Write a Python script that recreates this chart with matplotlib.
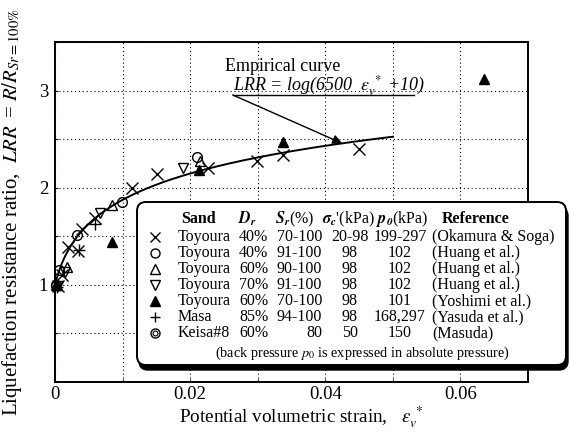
import numpy as np
import matplotlib
matplotlib.use("Agg")
import matplotlib.pyplot as plt
from matplotlib.lines import Line2D
from matplotlib.patches import FancyBboxPatch
from matplotlib.ticker import MultipleLocator, FuncFormatter

plt.rcParams['font.family'] = ['Liberation Serif', 'DejaVu Serif']
plt.rcParams['mathtext.fontset'] = 'stix'

# data
toy40_x = [0.0005, 0.0010, 0.0019, 0.0034, 0.0040, 0.0059, 0.0114, 0.0151, 0.0226, 0.0299, 0.0337, 0.0450]
toy40_y = [0.99, 1.10, 1.39, 1.35, 1.57, 1.69, 2.00, 2.14, 2.20, 2.27, 2.34, 2.40]
huang40_x = [0.0002, 0.0006, 0.0033, 0.0099, 0.0210]
huang40_y = [1.00, 1.15, 1.51, 1.85, 2.32]
huang60_x = [0.0003, 0.0018, 0.0084, 0.0215]
huang60_y = [1.00, 1.18, 1.82, 2.27]
huang70_x = [0.0004, 0.0015, 0.0066, 0.0190]
huang70_y = [0.99, 1.13, 1.74, 2.20]
yoshimi_x = [0.0002, 0.0084, 0.0213, 0.0337, 0.0635]
yoshimi_y = [1.00, 1.44, 2.18, 2.47, 3.12]
masa_x = [0.0003, 0.0036, 0.0059]
masa_y = [0.98, 1.36, 1.63]
keisa_x = [0.0001]
keisa_y = [1.00]

# empirical curve LRR = log(6500 e + 10)
coef_a, coef_b, eps_max = 6500, 10, 0.05

# legend table
sands = ['Toyoura', 'Toyoura', 'Toyoura', 'Toyoura', 'Toyoura', 'Masa', 'Keisa#8']
drs = ['40%', '40%', '60%', '70%', '60%', '85%', '60%']
srs = ['70-100', '91-100', '90-100', '91-100', '70-100', '94-100', '80']
sigmas = ['20-98', '98', '98', '98', '98', '98', '50']
p0s = ['199-297', '102', '102', '102', '101', '168,297', '150']
refs = ['(Okamura & Soga)', '(Huang et al.)', '(Huang et al.)', '(Huang et al.)',
        '(Yoshimi et al.)', '(Yasuda et al.)', '(Masuda)']

styles = [dict(marker='x', mfc='none'), dict(marker='o', mfc='none'),
          dict(marker='^', mfc='none'), dict(marker='v', mfc='none'),
          dict(marker='^', mfc='k'), dict(marker='+', mfc='none'),
          dict(marker='o', mfc='none')]
series = [(toy40_x, toy40_y), (huang40_x, huang40_y), (huang60_x, huang60_y),
          (huang70_x, huang70_y), (yoshimi_x, yoshimi_y), (masa_x, masa_y),
          (keisa_x, keisa_y)]

def msize(st):
    return 8 if st['marker'] in ('x', '+') else 7

fig = plt.figure(figsize=(5.7, 4.32), dpi=100)
ax = fig.add_axes([55/570, 50/432, 473/570, 340/432])

ex = np.linspace(0, eps_max, 200)
ax.plot(ex, np.log10(coef_a*ex + coef_b), color='k', lw=1.4, zorder=3)

for (xs, ys), st in zip(series, styles):
    ax.plot(xs, ys, ls='none', color='k', mec='k', ms=msize(st), mew=1.0,
            clip_on=False, zorder=4, **st)
# inner ring of the Keisa#8 double circle
ax.plot(keisa_x, keisa_y, ls='none', marker='o', mfc='none', mec='k', ms=3.5,
        mew=0.8, clip_on=False, zorder=4)

ax.set_xlim(0, 0.07)
ax.set_ylim(0, 3.5)
ax.xaxis.set_major_locator(MultipleLocator(0.01))
ax.yaxis.set_major_locator(MultipleLocator(0.5))
ax.xaxis.set_major_formatter(FuncFormatter(
    lambda v, p: ('0' if abs(v) < 1e-9 else '%g' % v) if round(v*100) % 2 == 0 else ''))
ax.yaxis.set_major_formatter(FuncFormatter(
    lambda v, p: '%d' % v if abs(v - round(v)) < 1e-9 and v > 0 else ''))
ax.tick_params(direction='in', length=2, width=0.8, labelsize=13.5, pad=5)
ax.tick_params(axis='x', pad=3)
ax.grid(True, color='k', ls=(0, (1, 2.5)), lw=0.8)
for s in ax.spines.values():
    s.set_linewidth(1.4)

ax.set_xlabel(r'Potential volumetric strain,   $\varepsilon_v^{\ *}$', fontsize=13.8)
ax.xaxis.set_label_coords(0.52, -0.067)
ax.set_ylabel(r'Liquefaction resistance ratio,  $LRR\,$ = $R/R_{Sr=100\%}$', fontsize=15)
ax.yaxis.set_label_coords(-0.066, 0.5)

# annotation of empirical curve
ax.text(0.0252, 3.2, 'Empirical curve', fontsize=13, va='baseline', ha='left')
ax.text(0.0263, 3.0, r'LRR = log(6500  $\varepsilon_v^{\ *}$ +10)', fontsize=13,
        fontstyle='italic', va='baseline', ha='left')
ax.plot([0.0263, 0.0531], [2.955, 2.955], color='k', lw=1.0, clip_on=False)
tip = 0.0425
ax.annotate('', xy=(tip, np.log10(coef_a*tip + coef_b)), xytext=(0.0263, 2.955),
            arrowprops=dict(arrowstyle='-|>', color='k', lw=1.0,
                            mutation_scale=14, shrinkA=0, shrinkB=0))

# legend box drawn in pixel-like inch coordinates
T = fig.dpi_scale_trans
def px(x):
    return x/100.0
def py(y):
    return (432 - y)/100.0

bx0, bx1, by0, by1 = 137, 566, 202, 365
shadow = FancyBboxPatch((px(bx0 + 2), py(by1 + 5)), px(bx1 - bx0), px(by1 - by0),
                        boxstyle='round,pad=0,rounding_size=0.09', transform=T,
                        fc='k', ec='k', lw=1.0, zorder=5)
box = FancyBboxPatch((px(bx0), py(by1)), px(bx1 - bx0), px(by1 - by0),
                     boxstyle='round,pad=0,rounding_size=0.09', transform=T,
                     fc='white', ec='k', lw=1.4, zorder=6)
fig.patches.extend([shadow, box])

fs = 11.5
hy = 219
kw = dict(transform=T, fontsize=fs, va='center', zorder=7)
fig.text(px(181), py(hy), 'Sand', fontweight='bold', ha='left', **kw)
fig.text(px(238), py(hy), r'$\mathbfit{D}_{\mathbfit{r}}$', ha='left', **kw)
fig.text(px(275), py(hy), r'$\mathbfit{S}_{\mathbfit{r}}$(%)', ha='left', **kw)
fig.text(px(348), py(hy), r"$\mathbfit{\sigma}_{\mathbfit{c}}$'(kPa)", ha='center', **kw)
fig.text(px(402), py(hy), r'$\mathbfit{p}_{\mathbfit{0}}$(kPa)', ha='center', **kw)
fig.text(px(476), py(hy), 'Reference', fontweight='bold', ha='center', **kw)

for i in range(len(sands)):
    yy = py(237 + 16*i)
    st = styles[i]
    fig.lines.append(Line2D([px(155)], [yy], transform=T, ls='none', color='k',
                            mec='k', ms=msize(st) - 0.5, mew=1.0, zorder=7, **st))
    if sands[i] == 'Keisa#8':
        fig.lines.append(Line2D([px(155)], [yy], transform=T, ls='none', marker='o',
                                mfc='none', mec='k', ms=3.5, mew=0.8, zorder=7))
    fig.text(px(178), yy, sands[i], ha='left', **kw)
    fig.text(px(239), yy, drs[i], ha='left', **kw)
    fig.text(px(322), yy, srs[i], ha='right', **kw)
    fig.text(px(350), yy, sigmas[i], ha='center', **kw)
    fig.text(px(400), yy, p0s[i], ha='center', **kw)
    fig.text(px(432), yy, refs[i], ha='left', **kw)

fig.text(px(362), py(353), r'(back pressure $p_0$ is expressed in absolute pressure)',
         transform=T, fontsize=10.3, ha='center', va='center', zorder=7)

fig.savefig('out.png', dpi=100)
